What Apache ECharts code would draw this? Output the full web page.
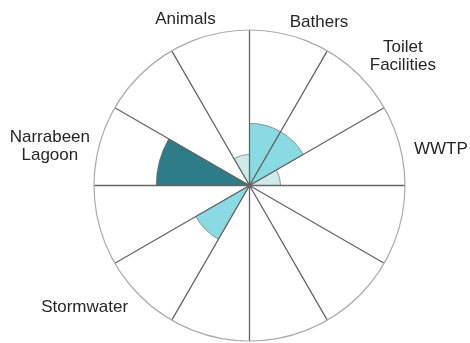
<!DOCTYPE html>
<html>
<head>
<meta charset="utf-8">
<script src="https://cdn.jsdelivr.net/npm/echarts@6/dist/echarts.min.js"></script>
<style>html,body{margin:0;padding:0;background:#fff}#c{width:470px;height:343px}</style>
</head>
<body>
<div id="c"></div>
<script>
// 12 sectors, clockwise from top
var categories = ['Bathers', 'Toilet\nFacilities', 'WWTP', '', '', '', '', 'Stormwater', '', 'Narrabeen\nLagoon', '', 'Animals'];
var values = [2, 2, 1, 0, 0, 0, 0, 2, 0, 3, 0, 1];
var radiusMax = 5;

var levelColors = {1: '#cdece9', 2: '#89dae3', 3: '#2e7c88'};
// per-label nudges (padding) so labels sit where the reference puts them
var labelPadding = {
  'Bathers': [0, 0, 4.1, 58.6],
  'Toilet\nFacilities': [0, 0, 0.9, 10.3],
  'WWTP': [8.8, 0, 0, 14.3],
  'Stormwater': [2.3, 11.5, 0, 0],
  'Narrabeen\nLagoon': [2.4, 9.3, 0, 0],
  'Animals': [0, 47.6, 6.4, 0]
};

var chart = echarts.init(document.getElementById('c'), null, {renderer: 'canvas'});
chart.setOption({
  animation: false,
  backgroundColor: '#ffffff',
  polar: {center: [249.5, 185.5], radius: 155.5},
  angleAxis: {
    type: 'category',
    data: categories.map(function (c) {
      return labelPadding[c] ? {value: c, textStyle: {padding: labelPadding[c]}} : c;
    }),
    startAngle: 90,
    clockwise: true,
    boundaryGap: true,
    z: 5,
    axisLine: {show: true, lineStyle: {color: '#aaaaaa', width: 1.2}},
    axisTick: {show: false},
    splitLine: {show: true, lineStyle: {color: '#666666', width: 1.3}},
    axisLabel: {
      interval: 0,
      margin: 0,
      fontFamily: 'Liberation Sans, Arial, sans-serif',
      fontSize: 17,
      lineHeight: 18.4,
      color: '#262626',
      formatter: function (v) {
        if (v.indexOf('\n') >= 0) {
          return v.split('\n').map(function (s) { return '{c|' + s + '}'; }).join('\n');
        }
        return v;
      },
      rich: {
        c: {align: 'center', fontSize: 17, lineHeight: 18.4, color: '#262626', fontFamily: 'Liberation Sans, Arial, sans-serif'}
      }
    }
  },
  radiusAxis: {
    type: 'value',
    min: 0,
    max: radiusMax,
    axisLine: {show: false},
    axisTick: {show: false},
    axisLabel: {show: false},
    splitLine: {show: false}
  },
  series: [{
    type: 'bar',
    coordinateSystem: 'polar',
    barCategoryGap: '0%',
    data: values.map(function (v) {
      return {value: v, itemStyle: {color: levelColors[v] || 'transparent'}};
    }),
    itemStyle: {borderColor: '#5a5a5a', borderWidth: 0.6}
  }]
});
</script>
</body>
</html>
